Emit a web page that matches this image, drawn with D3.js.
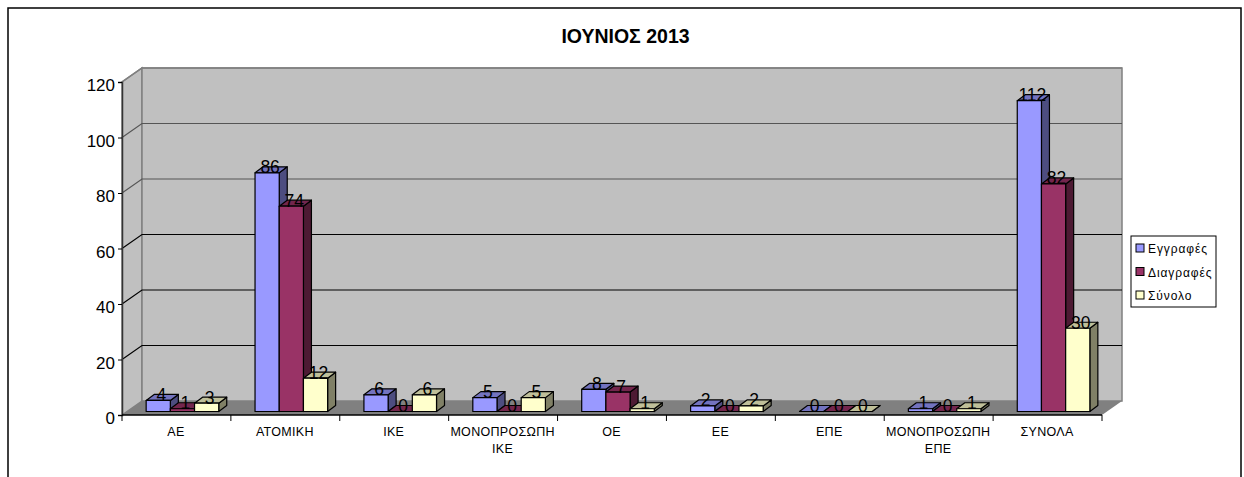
<!DOCTYPE html>
<html>
<head>
<meta charset="utf-8">
<script src="https://cdn.jsdelivr.net/npm/d3@7"></script>
<style>
  html, body { margin: 0; padding: 0; background: #fff; overflow: hidden; }
  text { font-family: "Liberation Sans", Arial, sans-serif; fill: #000; }
</style>
</head>
<body>
<div id="chart"></div>
<script>
const chartTitle = 'ΙΟΥΝΙΟΣ 2013'
const categories = ['ΑΕ', 'ΑΤΟΜΙΚΗ', 'ΙΚΕ', 'ΜΟΝΟΠΡΟΣΩΠΗ ΙΚΕ', 'ΟΕ', 'ΕΕ', 'ΕΠΕ', 'ΜΟΝΟΠΡΟΣΩΠΗ ΕΠΕ', 'ΣΥΝΟΛΑ']
const seriesNames = ['Εγγραφές', 'Διαγραφές', 'Σύνολο']
const registrations = [4, 86, 6, 5, 8, 2, 0, 1, 112]
const deletions = [1, 74, 0, 0, 7, 0, 0, 0, 82]
const totals = [3, 12, 6, 5, 1, 2, 0, 1, 30]
const yTicks = [0, 20, 40, 60, 80, 100, 120]
const colours = ['#9999ff', '#993366', '#ffffcc']
const sideColours = ['#4d4d80', '#4d1a33', '#808066']
const topColours = ['#7373bf', '#73264d', '#bfbf99']

const width = 1244, height = 477
const plot = { left: 122, right: 1102, top: 82, bottom: 415 }
const depth = { x: 20, y: -14 }      // wall offset from the front plane
const barShift = { x: 6, y: -3.5 }   // bars stand a little behind the front plane
const barDepth = { x: 8, y: -6 }

const series = [registrations, deletions, totals]

const svg = d3.select('#chart').append('svg')
  .attr('width', width)
  .attr('height', height)
  .style('display', 'block')

const x0 = d3.scaleBand().domain(categories).range([plot.left, plot.right])
const x1 = d3.scaleBand().domain(seriesNames).range([0, x0.bandwidth()]).paddingOuter(0.75).paddingInner(0)
const y = d3.scaleLinear().domain([0, 120]).range([plot.bottom, plot.top])

const poly = pts => pts.map(p => p.join(',')).join(' ')

// outer frame, bottom edge is cut off by the picture
svg.append('rect')
  .attr('x', 8).attr('y', 8)
  .attr('width', 1233).attr('height', 500)
  .attr('fill', '#fff').attr('stroke', '#000').attr('stroke-width', 1.5)

svg.append('text')
  .attr('x', 625.5).attr('y', 42.5)
  .attr('text-anchor', 'middle')
  .style('font-size', '19.5px').style('font-weight', 'bold')
  .text(chartTitle)

// walls and floor
const walls = svg.append('g').attr('class', 'walls')
walls.append('polygon')
  .attr('points', poly([[plot.left, y(0)], [plot.left + depth.x, y(0) + depth.y], [plot.left + depth.x, y(120) + depth.y], [plot.left, y(120)]]))
  .attr('fill', '#c0c0c0').attr('stroke', '#808080').attr('stroke-width', 1.5)
walls.append('rect')
  .attr('x', plot.left + depth.x).attr('y', y(120) + depth.y)
  .attr('width', plot.right - plot.left).attr('height', y(0) - y(120))
  .attr('fill', '#c0c0c0').attr('stroke', '#808080').attr('stroke-width', 1.5)
walls.append('polygon')
  .attr('points', poly([[plot.left, y(0)], [plot.right, y(0)], [plot.right + depth.x, y(0) + depth.y], [plot.left + depth.x, y(0) + depth.y]]))
  .attr('fill', '#808080')

// gridlines run along the side wall and the back wall
const grid = svg.append('g').attr('class', 'grid')
grid.selectAll('polyline')
  .data(yTicks.slice(1))
  .join('polyline')
    .attr('points', d => poly([[plot.left, y(d)], [plot.left + depth.x, y(d) + depth.y], [plot.right + depth.x, y(d) + depth.y]]))
    .attr('fill', 'none')
    .attr('stroke', d => d === 120 ? '#808080' : d >= 80 ? '#555' : '#000')
    .attr('stroke-width', d => d === 120 ? 1.5 : 1.2)

// axes
svg.append('g')
  .attr('transform', `translate(${plot.left},0)`)
  .call(d3.axisLeft(y).tickValues(yTicks).tickSize(4).tickPadding(3))
  .call(g => g.select('.domain').attr('stroke', '#333').attr('stroke-width', 1.5))
  .call(g => g.selectAll('.tick text').style('font-size', '17px').attr('font-family', null).attr('dy', '0.52em'))

const xAxis = svg.append('g')
  .attr('transform', `translate(0,${plot.bottom})`)
xAxis.append('line')
  .attr('x1', plot.left).attr('x2', plot.right)
  .attr('stroke', '#000').attr('stroke-width', 1.5)
xAxis.selectAll('.edge')
  .data(d3.range(categories.length + 1))
  .join('line')
    .attr('class', 'edge')
    .attr('x1', i => plot.left + i * x0.step())
    .attr('x2', i => plot.left + i * x0.step())
    .attr('y2', 6)
    .attr('stroke', '#000')
xAxis.selectAll('text')
  .data(categories)
  .join('text')
    .attr('transform', d => `translate(${x0(d) + x0.bandwidth() / 2 - 0.5},0)`)
    .attr('text-anchor', 'middle')
    .style('font-size', '12.5px')
    .style('letter-spacing', '0.3px')
    .each(function(d) {
      const words = d.split(' ')
      d3.select(this).selectAll('tspan')
        .data(words)
        .join('tspan')
          .attr('x', 0)
          .attr('y', (w, i) => 21 + i * 17)
          .text(w => w)
    })

// bars
const bars = []
categories.forEach((c, i) => {
  seriesNames.forEach((s, j) => {
    bars.push({ c, s, j, value: series[j][i] })
  })
})

const barGroups = svg.append('g').attr('class', 'bars')
  .attr('transform', `translate(${barShift.x},${barShift.y})`)
  .selectAll('g')
  .data(bars)
  .join('g')
    .attr('transform', d => `translate(${x0(d.c) + x1(d.s)},0)`)
    .attr('stroke', '#000')
    .attr('stroke-width', 1.2)
    .attr('stroke-linejoin', 'round')

const w = x1.bandwidth()
barGroups.append('polygon')
  .attr('points', d => poly([[w, y(d.value)], [w + barDepth.x, y(d.value) + barDepth.y], [w + barDepth.x, y(0) + barDepth.y], [w, y(0)]]))
  .attr('fill', d => sideColours[d.j])
barGroups.append('polygon')
  .attr('points', d => poly([[0, y(d.value)], [barDepth.x, y(d.value) + barDepth.y], [w + barDepth.x, y(d.value) + barDepth.y], [w, y(d.value)]]))
  .attr('fill', d => topColours[d.j])
barGroups.append('rect')
  .attr('y', d => y(d.value))
  .attr('width', w)
  .attr('height', d => y(0) - y(d.value))
  .attr('fill', d => colours[d.j])

// value labels sit over the top of each bar
svg.append('g').attr('class', 'labels')
  .selectAll('text')
  .data(bars)
  .join('text')
    .attr('x', d => x0(d.c) + x1(d.s) + w / 2 + barShift.x + 3)
    .attr('y', d => y(d.value) + barShift.y + 0.5)
    .attr('text-anchor', 'middle')
    .style('font-size', '17.5px')
    .text(d => d.value)

// legend
const legend = svg.append('g').attr('class', 'legend')
  .attr('transform', 'translate(1131,236)')
legend.append('rect')
  .attr('width', 85).attr('height', 71)
  .attr('fill', '#fff').attr('stroke', '#000')
const legendRows = legend.selectAll('g')
  .data(seriesNames)
  .join('g')
    .attr('transform', (d, i) => `translate(5,${12 + i * 23.5 - 4})`)
legendRows.append('rect')
  .attr('width', 8).attr('height', 8)
  .attr('fill', (d, i) => colours[i]).attr('stroke', '#000')
legendRows.append('text')
  .attr('x', 12).attr('y', 9)
  .style('font-size', '12px')
  .style('letter-spacing', '0.9px')
  .text(d => d)
</script>
</body>
</html>
